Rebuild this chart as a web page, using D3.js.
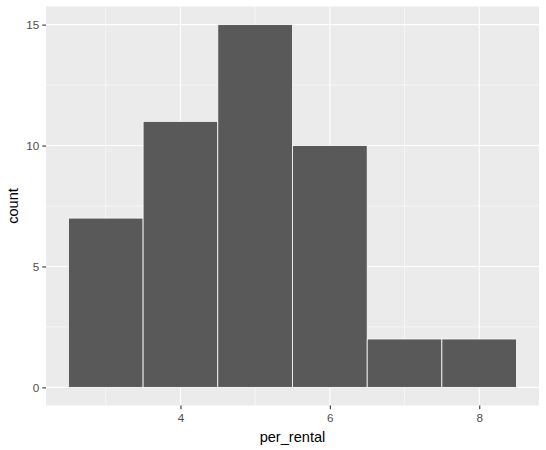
<!DOCTYPE html>
<html><head><meta charset="utf-8">
<script src="https://cdn.jsdelivr.net/npm/d3@7"></script>
<style>body{margin:0;background:#fff}</style>
</head><body>
<svg id="c" width="546" height="450"></svg>
<script>
const binCenters = [3, 4, 5, 6, 7, 8];
const counts = [7, 11, 15, 10, 2, 2];
const binWidth = 1;
const xTicks = [4, 6, 8];
const xMinor = [3, 5, 7];
const yTicks = [0, 5, 10, 15];
const yMinor = [2.5, 7.5, 12.5];
const xLabel = "per_rental";
const yLabel = "count";

const svg = d3.select("#c");
const L = 46, R = 539, T = 6.5, B = 405.5;
const x = d3.scaleLinear().domain([2.2, 8.8]).range([L, R]);
const y = d3.scaleLinear().domain([-0.75, 15.75]).range([B, T]);

svg.append("rect").attr("x", L).attr("y", T).attr("width", R - L).attr("height", B - T).attr("fill", "#EBEBEB");
const g = svg.append("g");
xMinor.forEach(v => g.append("line").attr("x1", x(v)).attr("x2", x(v)).attr("y1", T).attr("y2", B).attr("stroke", "#fff").attr("stroke-width", 0.55));
yMinor.forEach(v => g.append("line").attr("y1", y(v)).attr("y2", y(v)).attr("x1", L).attr("x2", R).attr("stroke", "#fff").attr("stroke-width", 0.55));
xTicks.forEach(v => g.append("line").attr("x1", x(v)).attr("x2", x(v)).attr("y1", T).attr("y2", B).attr("stroke", "#fff").attr("stroke-width", 1.1));
yTicks.forEach(v => g.append("line").attr("y1", y(v)).attr("y2", y(v)).attr("x1", L).attr("x2", R).attr("stroke", "#fff").attr("stroke-width", 1.1));

svg.append("g").selectAll("rect").data(binCenters).join("rect")
  .attr("x", (d) => x(d - binWidth / 2))
  .attr("width", (d) => x(d + binWidth / 2) - x(d - binWidth / 2))
  .attr("y", (d, i) => y(counts[i]))
  .attr("height", (d, i) => y(0) - y(counts[i]))
  .attr("fill", "#595959").attr("stroke", "#fff").attr("stroke-width", 0.8);

const xAxis = svg.append("g").attr("transform", `translate(0,${B})`)
  .call(d3.axisBottom(x).tickValues(xTicks).tickSize(3.7).tickPadding(4).tickFormat(d3.format("d")));
const yAxis = svg.append("g").attr("transform", `translate(${L},0)`)
  .call(d3.axisLeft(y).tickValues(yTicks).tickSize(3.7).tickPadding(3).tickFormat(d3.format("d")));
[xAxis, yAxis].forEach(a => {
  a.select(".domain").remove();
  a.selectAll(".tick line").attr("stroke", "#333333").attr("stroke-width", 1.1);
  a.selectAll(".tick text").attr("fill", "#4D4D4D").style("font-family", "Arial, 'Liberation Sans', sans-serif").style("font-size", "11.7px");
});

svg.append("text").attr("x", (L + R) / 2).attr("y", 442).attr("text-anchor", "middle")
  .style("font-family", "Arial, 'Liberation Sans', sans-serif").style("font-size", "14.6px").attr("fill", "#000").text(xLabel);
svg.append("text").attr("transform", `translate(18,${(T + B) / 2}) rotate(-90)`).attr("text-anchor", "middle")
  .style("font-family", "Arial, 'Liberation Sans', sans-serif").style("font-size", "14.6px").attr("fill", "#000").text(yLabel);
</script>
</body></html>
